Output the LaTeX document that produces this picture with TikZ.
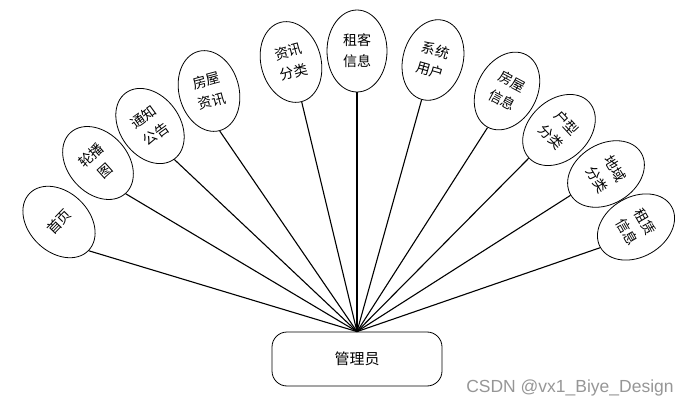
\documentclass[tikz,border=0pt]{standalone}
\usepackage{fontspec}
\newfontfamily\cjk{Noto Sans CJK SC}
\newfontfamily\wm{Liberation Sans}
\usetikzlibrary{shapes.geometric}
\definecolor{wmgray}{RGB}{150,150,150}
\tikzset{
  bub/.style={ellipse, draw, line width=0.8pt, minimum width=60pt, minimum height=82pt,
    inner sep=0pt, align=center, font=\cjk\fontsize{14}{21}\selectfont},
  conn/.style={line width=1.1pt},
  mgrbox/.style={draw, line width=0.8pt, rounded corners=15pt, minimum width=170pt,
    minimum height=54pt, font=\cjk\fontsize{15}{18}\selectfont}
}
\begin{document}
\begin{tikzpicture}[x=1pt,y=-1pt]
\useasboundingbox (0,0) rectangle (694,409);
\node[mgrbox] (mgr) at (357,359) {管理员};
\node[bub, rotate=46] (a1) at (59,222) {首页};
\node[bub, rotate=42] (a2) at (98,163) {轮播\\图};
\node[bub, rotate=36] (a3) at (150,126) {通知\\公告};
\node[bub, rotate=15] (a4) at (209,91) {房屋\\资讯};
\node[bub, rotate=15] (a5) at (291,62) {资讯\\分类};
\node[bub, rotate=0] (a6) at (357,51) {租客\\信息};
\node[bub, rotate=-16] (a7) at (433,60) {系统\\用户};
\node[bub, rotate=-28] (a8) at (507,91) {房屋\\信息};
\node[bub, rotate=-47] (a9) at (559,130) {户型\\分类};
\node[bub, rotate=-59] (a10) at (606,174) {地域\\分类};
\node[bub, rotate=-60] (a11) at (636,227) {租赁\\信息};
\foreach \i in {1,...,11} \draw[conn] (a\i.south) -- (mgr.north);
\node[font=\wm\fontsize{17.5}{20}\selectfont, text=wmgray] (wmk) at (570,388) {CSDN @vx1\_Biye\_Design};
\end{tikzpicture}
\end{document}
